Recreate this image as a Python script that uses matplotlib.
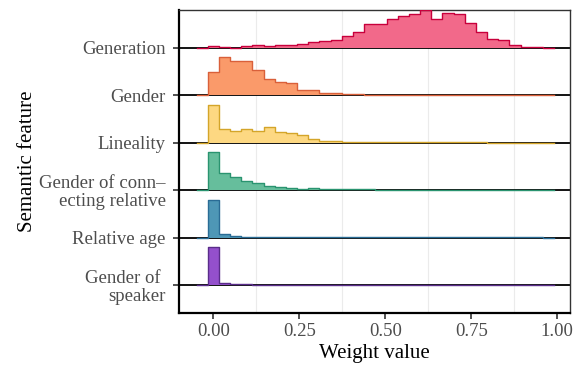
import numpy as np
import matplotlib.pyplot as plt

# features, bottom row first
features = ['Gender of \nspeaker', 'Relative age', 'Gender of conn\u2013\necting relative',
            'Lineality', 'Gender', 'Generation']

# histogram heights (30 bins over the weight range 0..0.94)
speaker = [114, 7, 4, 3, 1, 0.5, 0.5, 0.3, 0.3, 0.3, 0.3, 0.2, 0.2, 0.2, 0.2,
           0.2, 0.2, 0.2, 0.2, 0.2, 0.2, 0.2, 0.2, 0.2, 0.2, 0.2, 0.2, 0.2, 0.2, 0.2]
rel_age = [113, 12, 6, 3, 2, 1, 1, 1, 1, 1, 1, 1, 0.8, 0.8, 0.8,
           0.5, 0.5, 0.5, 0.5, 0.5, 0.5, 0.5, 0.5, 0.5, 0.5, 0.5, 0.5, 0.5, 0.5, 0.5]
conn = [114, 52, 38, 26, 20, 13, 8, 6, 4, 6, 4, 3, 2, 2, 3,
        1, 1, 1, 1, 1, 1, 0.5, 0.5, 0.5, 0.5, 0.5, 0.5, 0.5, 0.5, 0.5]
lineality = [114, 42, 36, 42, 34, 46, 32, 30, 24, 12, 6, 5, 3, 3, 2,
             1, 1, 1.5, 1, 1, 1, 1, 1.5, 1, 1, 0.5, 0.5, 0.5, 0.5, 0.5]
gender = [68, 113, 102, 101, 76, 49, 40, 38, 17, 15, 8, 8, 5, 4, 2,
          2, 1.5, 1.5, 1.5, 2, 1.5, 1, 1, 1, 1, 1, 1, 1, 1, 1]
generation = [7, 3, 1, 7, 10, 7, 10, 10, 13, 18, 22, 24, 37, 48, 71,
              73, 87, 95, 101, 114, 87, 105, 101, 75, 47, 28, 23, 8, 3, 2]
series = [speaker, rel_age, conn, lineality, gender, generation]

fills = ['#9450CC', '#4E97B6', '#66BE9C', '#FDD882', '#FA9A6A', '#F2698A']
edges_col = ['#5A2D8A', '#2A6C95', '#2A9470', '#D4A52A', '#D9603A', '#C8003C']

w = 0.942 / 29
edges = (np.arange(33) - 1.5) * w   # 30 bins plus one empty pad bin on each side

plt.rcParams['font.family'] = ['Liberation Serif', 'DejaVu Serif']
fig = plt.figure(figsize=(5.79, 3.69), dpi=100)
ax = fig.add_axes([0.309, 0.152, 0.6755, 0.821])

for g in [0.125, 0.375, 0.625, 0.875]:
    ax.axvline(g, color='#EBEBEB', lw=0.8, zorder=0)

for i, vals in enumerate(series):
    base = i + 1
    h = np.concatenate([[0], np.array(vals, float), [0]])
    h = h / h.max() * 0.8
    xs = np.repeat(edges, 2)[1:-1]
    ys = base + np.repeat(h, 2)
    ax.axhline(base, color='black', lw=1.3, zorder=1)
    ax.fill_between(xs, base, ys, color=fills[i], lw=0, zorder=2)
    ax.plot(xs, ys, color=edges_col[i], lw=1.0, zorder=3)

ax.set_xlim(-0.1, 1.037)
ax.set_ylim(0.41, 6.8)
ax.set_xticks([0, 0.25, 0.5, 0.75, 1.0])
ax.set_xticklabels(['0.00', '0.25', '0.50', '0.75', '1.00'])
ax.set_yticks(range(1, 7))
ax.set_yticklabels(features, ha='right', multialignment='right', linespacing=1.05)
ax.tick_params(axis='both', colors='#333333', labelcolor='#4D4D4D',
               labelsize=13.5, length=4.5, width=1.2)
ax.tick_params(axis='y', pad=5)
ax.tick_params(axis='x', pad=3)

for s in ['top', 'right']:
    ax.spines[s].set_color('#333333')
    ax.spines[s].set_linewidth(1.0)
for s in ['left', 'bottom']:
    ax.spines[s].set_color('black')
    ax.spines[s].set_linewidth(1.6)

ax.set_xlabel('Weight value', fontsize=15, labelpad=3)
ax.set_ylabel('Semantic feature', fontsize=15, labelpad=1.5)

fig.savefig('out.png', dpi=100)
